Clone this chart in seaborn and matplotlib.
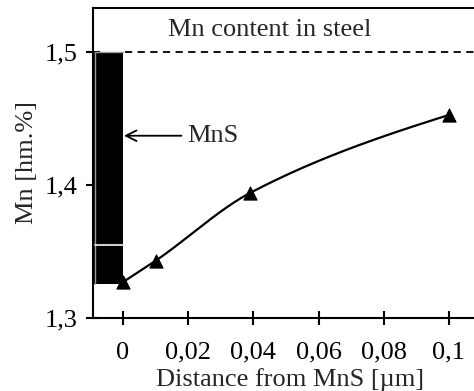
import matplotlib
matplotlib.use('Agg')
import matplotlib.pyplot as plt
import seaborn as sns
import numpy as np

# measured points
odleglosc = [0.0, 0.01, 0.039, 0.1]
mn = [1.327, 1.343, 1.394, 1.4526]
mn_stal = 1.5
wtracenie_dol = 1.3256
wtracenie_szer = 0.0092
x_ticks = [0, 0.02, 0.04, 0.06, 0.08, 0.1]
x_labels = ['0', '0,02', '0,04', '0,06', '0,08', '0,1']
y_ticks = [1.3, 1.4, 1.5]
y_labels = ['1,3', '1,4', '1,5']


def gladka(x, y, n=200):
    # monotone cubic (Fritsch-Carlson) just for drawing the smooth line
    x = np.asarray(x)
    y = np.asarray(y)
    h = np.diff(x)
    d = np.diff(y) / h
    m = np.zeros_like(y)
    m[1:-1] = np.where(d[:-1] * d[1:] > 0,
                       (3 * (h[:-1] + h[1:])) / ((2 * h[1:] + h[:-1]) / d[:-1] + (h[1:] + 2 * h[:-1]) / d[1:]),
                       0)
    m[0] = d[0]
    m[-1] = d[-1] * 0.8
    xs = np.linspace(x[0], x[-1], n)
    i = np.clip(np.searchsorted(x, xs) - 1, 0, len(h) - 1)
    t = (xs - x[i]) / h[i]
    h00 = 2 * t**3 - 3 * t**2 + 1
    h10 = t**3 - 2 * t**2 + t
    h01 = -2 * t**3 + 3 * t**2
    h11 = t**3 - t**2
    ys = h00 * y[i] + h10 * h[i] * m[i] + h01 * y[i + 1] + h11 * h[i] * m[i + 1]
    return xs, ys


sns.set_style('ticks')
plt.rcParams['font.family'] = ['Liberation Serif', 'DejaVu Serif']
plt.rcParams['font.size'] = 19

fig = plt.figure(figsize=(4.74, 3.91), dpi=100)
ax = fig.add_axes([93 / 474, 73 / 391, 395 / 474, 310 / 391])

xs, ys = gladka(odleglosc, mn)
sns.lineplot(x=xs, y=ys, ax=ax, color='black', linewidth=1.6)
sns.scatterplot(x=odleglosc, y=mn, ax=ax, marker='^', color='black', s=90,
                edgecolor='black', zorder=5)

# MnS inclusion
ax.bar(-wtracenie_szer / 2, mn_stal - wtracenie_dol, width=wtracenie_szer,
       bottom=wtracenie_dol, color='black', edgecolor='none', zorder=3)
ax.plot([-wtracenie_szer * 0.93, -wtracenie_szer * 0.93], [wtracenie_dol, mn_stal],
        color='0.6', linewidth=1, zorder=4)
ax.plot([-wtracenie_szer * 0.93, 0], [1.355, 1.355], color='0.8', linewidth=1.5, zorder=4)
ax.plot([-wtracenie_szer * 0.93, 0], [mn_stal, mn_stal], color='0.6', linewidth=1, zorder=4)

ax.axhline(mn_stal, xmin=0.08, color='black', linestyle=(0, (4, 3)), linewidth=1.3)
ax.text(0.045, 1.5165, 'Mn content in steel', ha='center', va='center')
ax.annotate('MnS', xy=(0.0003, 1.437), xytext=(0.0198, 1.437),
            ha='left', va='center',
            arrowprops=dict(arrowstyle='->', color='black', lw=1.3,
                            shrinkA=2, shrinkB=0))

ax.set_xlim(-wtracenie_szer, 0.112)
ax.set_ylim(1.3, 1.533)
ax.set_xticks(x_ticks)
ax.set_xticklabels(x_labels)
ax.set_yticks(y_ticks)
ax.set_yticklabels(y_labels)
ax.tick_params(direction='inout', length=10, width=1.5, colors='black', pad=6)
ax.tick_params(axis='x', pad=12)
ax.set_xlabel('Distance from MnS [µm]', labelpad=3)
ax.set_ylabel('Mn [hm.%]', labelpad=5)
for s in ['left', 'bottom', 'top']:
    ax.spines[s].set_linewidth(1.5)
    ax.spines[s].set_color('black')
ax.spines['right'].set_visible(False)

fig.savefig('out.png', dpi=100)
